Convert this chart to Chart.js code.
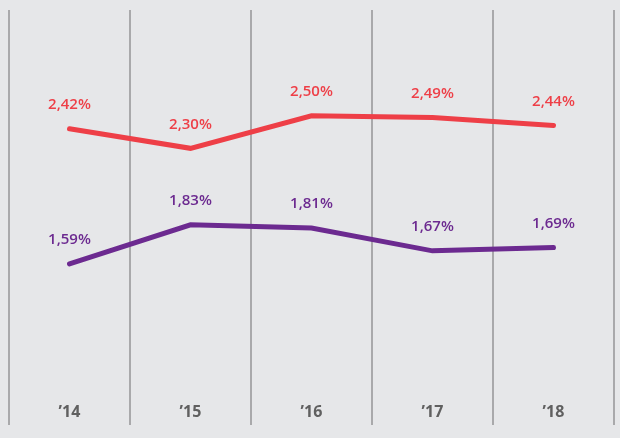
<!DOCTYPE html>
<html>
<head>
<meta charset="utf-8">
<script src="https://cdn.jsdelivr.net/npm/chart.js@4/dist/chart.umd.min.js"></script>
<style>
  html, body { margin: 0; padding: 0; background: #e6e7e9; }
  #wrap { width: 620px; height: 438px; }
</style>
</head>
<body>
<div id="wrap"><canvas id="chart"></canvas></div>
<script>
const years = ['\u201914', '\u201915', '\u201916', '\u201917', '\u201918']
const redValues = [2.42, 2.30, 2.50, 2.49, 2.44]
const purpleValues = [1.59, 1.83, 1.81, 1.67, 1.69]

const RED = '#ee3f47'
const PURPLE = '#6c2a90'

// writes the value above each point, "2,42%" style
const valueLabels = {
  id: 'valueLabels',
  afterDatasetsDraw(chart) {
    const ctx = chart.ctx
    ctx.save()
    ctx.font = '600 15px "Open Sans"'
    ctx.textAlign = 'center'
    ctx.textBaseline = 'middle'
    chart.data.datasets.forEach((ds, i) => {
      const meta = chart.getDatasetMeta(i)
      ctx.fillStyle = ds.borderColor
      meta.data.forEach((pt, j) => {
        const txt = ds.data[j].toFixed(2).replace('.', ',') + '%'
        ctx.fillText(txt, pt.x, pt.y - 24)
      })
    })
    ctx.restore()
  }
}

new Chart(document.getElementById('chart').getContext('2d'), {
  type: 'line',
  data: {
    labels: years,
    datasets: [
      {
        label: 'red',
        data: redValues,
        borderColor: RED,
        borderWidth: 5,
        pointRadius: 0,
        borderCapStyle: 'round',
        tension: 0,
      },
      {
        label: 'purple',
        data: purpleValues,
        borderColor: PURPLE,
        borderWidth: 5,
        pointRadius: 0,
        borderCapStyle: 'round',
        tension: 0,
      },
    ],
  },
  options: {
    responsive: true,
    maintainAspectRatio: false,
    animation: false,
    layout: { padding: { left: 9, right: 6, top: 10, bottom: 13 } },
    plugins: {
      legend: { display: false },
      tooltip: { enabled: false },
    },
    scales: {
      x: {
        offset: true,
        border: { display: false },
        grid: {
          offset: true,
          color: '#a9a9ab',
          lineWidth: 2,
          drawTicks: false,
        },
        ticks: {
          padding: -22,
          color: '#606060',
          font: { family: '"Open Sans"', size: 16, weight: 'bold' },
        },
      },
      y: {
        display: false,
        min: 0.6,
        max: 3.15,
      },
    },
  },
  plugins: [valueLabels],
})
</script>
</body>
</html>
